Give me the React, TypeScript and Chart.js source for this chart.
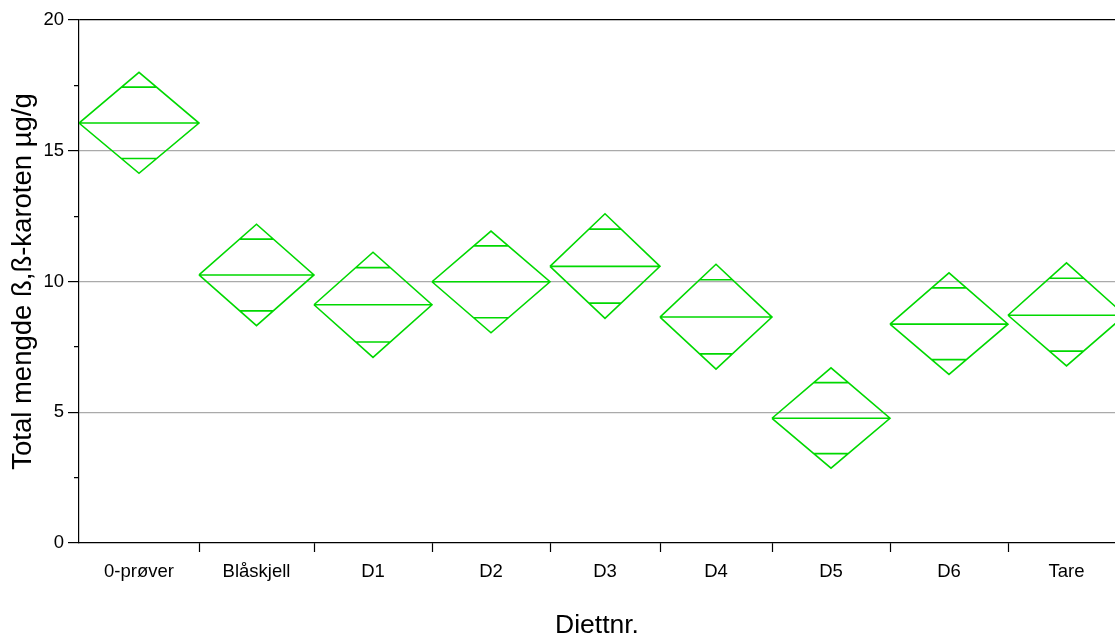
import React, { useEffect, useRef } from 'react';
import { Chart, registerables } from 'chart.js';

Chart.register(...registerables);

// ---- Data ----
const categories = ['0-prøver', 'Blåskjell', 'D1', 'D2', 'D3', 'D4', 'D5', 'D6', 'Tare'];
// relative group widths (diamond widths scale with group size)
const groupWidths = [120, 115, 118, 118, 110, 112, 118, 118, 117];
const means = [16.06, 10.25, 9.11, 9.99, 10.58, 8.64, 4.77, 8.37, 8.71];
const upper95 = [18.0, 12.19, 11.12, 11.93, 12.59, 10.66, 6.7, 10.33, 10.71];
const lower95 = [14.14, 8.31, 7.1, 8.04, 8.59, 6.65, 2.86, 6.45, 6.77];
const yMajorTicks = [0, 5, 10, 15, 20];

const X_VISIBLE_MAX = 1036;
const FONT = "'Liberation Sans', Arial, Helvetica, sans-serif";
const GREEN = 'rgb(0, 216, 0)';

function buildBoundaries(): number[] {
  const b = [0];
  groupWidths.forEach((w) => b.push(b[b.length - 1] + w));
  return b;
}

function buildDiamondPoints(b: number[]) {
  const pts: { x: number; y: number | null }[] = [];
  const k = 1 / Math.SQRT2;
  for (let i = 0; i < categories.length; i++) {
    const L = b[i];
    const R = b[i + 1];
    const C = (L + R) / 2;
    const m = means[i];
    const u = upper95[i];
    const l = lower95[i];
    const half = (R - L) / 2;
    // outline
    pts.push({ x: L, y: m }, { x: C, y: u }, { x: R, y: m }, { x: C, y: l }, { x: L, y: m }, { x: C, y: null });
    // mean line
    pts.push({ x: L, y: m }, { x: R, y: m }, { x: C, y: null });
    // overlap marks
    const hw = half * (1 - k);
    const yu = m + (u - m) * k;
    pts.push({ x: C - hw, y: yu }, { x: C + hw, y: yu }, { x: C, y: null });
    const yl = m - (m - l) * k;
    pts.push({ x: C - hw, y: yl }, { x: C + hw, y: yl }, { x: C, y: null });
  }
  return pts;
}

export default function App() {
  const canvasRef = useRef<HTMLCanvasElement | null>(null);

  useEffect(() => {
    if (!canvasRef.current) return;
    const b = buildBoundaries();
    const centers = categories.map((_, i) => (b[i] + b[i + 1]) / 2);
    const innerBounds = b.slice(1).filter((v) => v < X_VISIBLE_MAX);

    const chart = new Chart(canvasRef.current, {
      type: 'line',
      data: {
        datasets: [
          {
            data: buildDiamondPoints(b) as any,
            borderColor: GREEN,
            borderWidth: 1.6,
            pointRadius: 0,
            fill: false,
            tension: 0,
            spanGaps: false,
            xAxisID: 'x',
            yAxisID: 'y',
          },
        ],
      },
      options: {
        animation: false,
        responsive: false,
        layout: { padding: { top: 20, left: 0, right: 0, bottom: 0 } },
        plugins: { legend: { display: false }, tooltip: { enabled: false } },
        scales: {
          x: {
            type: 'linear',
            position: 'bottom',
            weight: 0,
            min: 0,
            max: X_VISIBLE_MAX,
            afterBuildTicks: (s: any) => {
              s.ticks = innerBounds.map((v) => ({ value: v }));
            },
            afterFit: (s: any) => {
              s.height = 9;
            },
            ticks: { display: false },
            grid: {
              display: true,
              drawOnChartArea: false,
              drawTicks: true,
              tickLength: 9,
              tickColor: '#000',
              tickWidth: 1.2,
              color: '#000',
            },
            border: { display: true, color: '#000', width: 1.2 },
          },
          xLabels: {
            type: 'linear',
            position: 'bottom',
            weight: 1,
            min: 0,
            max: X_VISIBLE_MAX,
            afterBuildTicks: (s: any) => {
              s.ticks = centers.map((v) => ({ value: v }));
            },
            afterFit: (s: any) => {
              s.height = 87;
            },
            ticks: {
              autoSkip: false,
              maxRotation: 0,
              padding: 1,
              color: '#000',
              font: { family: FONT, size: 18.5 },
              callback: (_v: any, i: number) => categories[i],
            },
            grid: { display: false },
            border: { display: false },
            title: {
              display: true,
              text: 'Diettnr.',
              color: '#000',
              font: { family: FONT, size: 26.5, lineHeight: 1 },
              padding: { top: 0, bottom: 0 },
            },
          },
          y: {
            type: 'linear',
            position: 'left',
            min: 0,
            max: 20,
            afterBuildTicks: (s: any) => {
              const t: { value: number }[] = [];
              for (let v = 0; v <= 20; v += 2.5) t.push({ value: v });
              s.ticks = t;
            },
            afterFit: (s: any) => {
              s.width = 79;
            },
            ticks: {
              padding: 4,
              color: '#000',
              font: { family: FONT, size: 18.5 },
              callback: (v: any) => (yMajorTicks.includes(Number(v)) ? String(v) : ''),
            },
            grid: {
              display: true,
              drawOnChartArea: true,
              drawTicks: true,
              tickLength: 11,
              tickColor: '#000',
              tickWidth: 1.2,
              lineWidth: 1.2,
              color: (ctx: any) => {
                const v = ctx.tick ? ctx.tick.value : -1;
                if (v === 20) return '#000';
                if (v === 0) return 'rgba(0,0,0,0)';
                return yMajorTicks.includes(v) ? '#aaaaaa' : 'rgba(0,0,0,0)';
              },
              tickBorderDash: (ctx: any) => {
                const v = ctx.tick ? ctx.tick.value : 0;
                return yMajorTicks.includes(v) ? [] : [0, 6, 5, 0];
              },
            },
            border: { display: true, color: '#000', width: 1.2 },
            title: {
              display: true,
              text: 'Total mengde ß,ß-karoten µg/g',
              color: '#000',
              font: { family: FONT, size: 27.5, lineHeight: 1 },
              padding: { top: 10, bottom: 0 },
            },
          },
        },
      } as any,
    });
    return () => chart.destroy();
  }, []);

  return (
    <div style={{ position: 'fixed', left: 0, top: 0, width: 1115, height: 639, background: '#fff' }}>
      <canvas ref={canvasRef} width={1115} height={639} style={{ display: 'block' }} />
    </div>
  );
}
